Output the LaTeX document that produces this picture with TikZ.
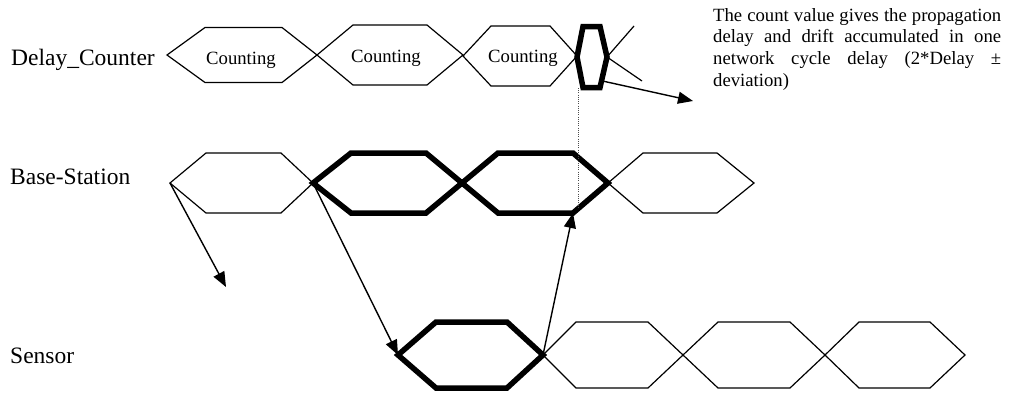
\documentclass[tikz,border=0pt]{standalone}
\usepackage{fontspec}
\setmainfont{Liberation Serif}
\usetikzlibrary{arrows.meta,calc}

% One hexagonal time slot: #1 name, #2 style, #3 left x, #4 top-left x,
% #5 top-right x, #6 right x, #7 centre y, #8 half height
\newcommand\hexcell[8]{%
  \coordinate (#1-l)  at (#3,#7);
  \coordinate (#1-tl) at (#4,{#7-#8});
  \coordinate (#1-tr) at (#5,{#7-#8});
  \coordinate (#1-r)  at (#6,#7);
  \coordinate (#1-br) at (#5,{#7+#8});
  \coordinate (#1-bl) at (#4,{#7+#8});
  \draw[#2] (#1-l) -- (#1-tl) -- (#1-tr) -- (#1-r) -- (#1-br) -- (#1-bl) -- cycle;
}

\tikzset{
  slot/.style={line width=1.2pt},
  activeslot/.style={line width=5.5pt, line join=miter, miter limit=3},
  flow/.style={line width=1.4pt, -{Triangle[length=15pt,width=12pt]}},
  marker/.style={line width=1pt, dash pattern=on 1pt off 1.2pt, black!70},
  rowlabel/.style={font=\fontsize{23.5}{26}\selectfont, inner sep=0pt},
  slotlabel/.style={font=\fontsize{18.7}{21}\selectfont, inner sep=0pt},
}

\begin{document}
\begin{tikzpicture}[x=1pt, y=-1pt]
\useasboundingbox (0,0) rectangle (1011,394);

% row labels
\node[rowlabel, anchor=base west] (lblDC) at (11,65) {Delay\_Counter};
\node[rowlabel, anchor=base west] (lblBS) at (10,184) {Base-Station};
\node[rowlabel, anchor=base west] (lblSN) at (10,363) {Sensor};

% Delay_Counter row
\hexcell{D1}{slot}{167}{205}{282}{317}{55}{27.5}
\hexcell{D2}{slot}{317}{353}{427}{463}{55}{30}
\hexcell{D3}{slot}{463}{491}{550}{577}{56}{30}
\hexcell{DB}{activeslot}{577}{583}{600}{607}{57}{30.5}
\coordinate (DXu) at (634,26);
\coordinate (DXd) at (642,81);
\draw[slot] (DB-r) -- (DXu);
\draw[slot] (DB-r) -- (DXd);
\node[slotlabel, anchor=base] (cnt1) at (241,64) {Counting};
\node[slotlabel, anchor=base] (cnt2) at (386,62) {Counting};
\node[slotlabel, anchor=base] (cnt3) at (523,62) {Counting};

% Base-Station row
\hexcell{B1}{slot}{170}{206}{281}{313}{183}{30}
\hexcell{B4}{slot}{608}{643}{717}{754}{183}{30}
\hexcell{B2}{activeslot}{313}{351}{426}{462}{183}{30}
\hexcell{B3}{activeslot}{462}{498}{573}{608}{183}{30}

% Sensor row
\hexcell{S2}{slot}{543}{576}{648}{683}{355}{33}
\hexcell{S3}{slot}{683}{718}{790}{825}{355}{33}
\hexcell{S4}{slot}{825}{859}{930}{965}{355}{33}
\hexcell{S1}{activeslot}{398}{436}{507}{543}{355}{33}

% messages between the rows
\coordinate (lost) at (226,287);
\draw[flow] (B1-l) -- (lost);
\draw[flow] (B2-l) -- (S1-l);
\draw[flow] (S1-r) -- (B3-br);

% count read-out
\coordinate (mkTop) at (578,88);
\coordinate (mkBot) at (578,208);
\draw[marker] (mkTop) -- (mkBot);
\coordinate (readout) at ($(DB-r)!0.78!(DB-br)$);
\coordinate (notePt) at (693,101);
\draw[flow] (readout) -- (notePt);

\node[anchor=north west, text width=288pt, align=justify, inner sep=0pt,
      font=\fontsize{18.7}{21.7}\selectfont] (note) at (713,8)
  {The count value gives the propagation\linebreak
   delay and drift accumulated in one\linebreak
   network cycle delay (2*Delay ±\linebreak
   deviation)};
\end{tikzpicture}
\end{document}
